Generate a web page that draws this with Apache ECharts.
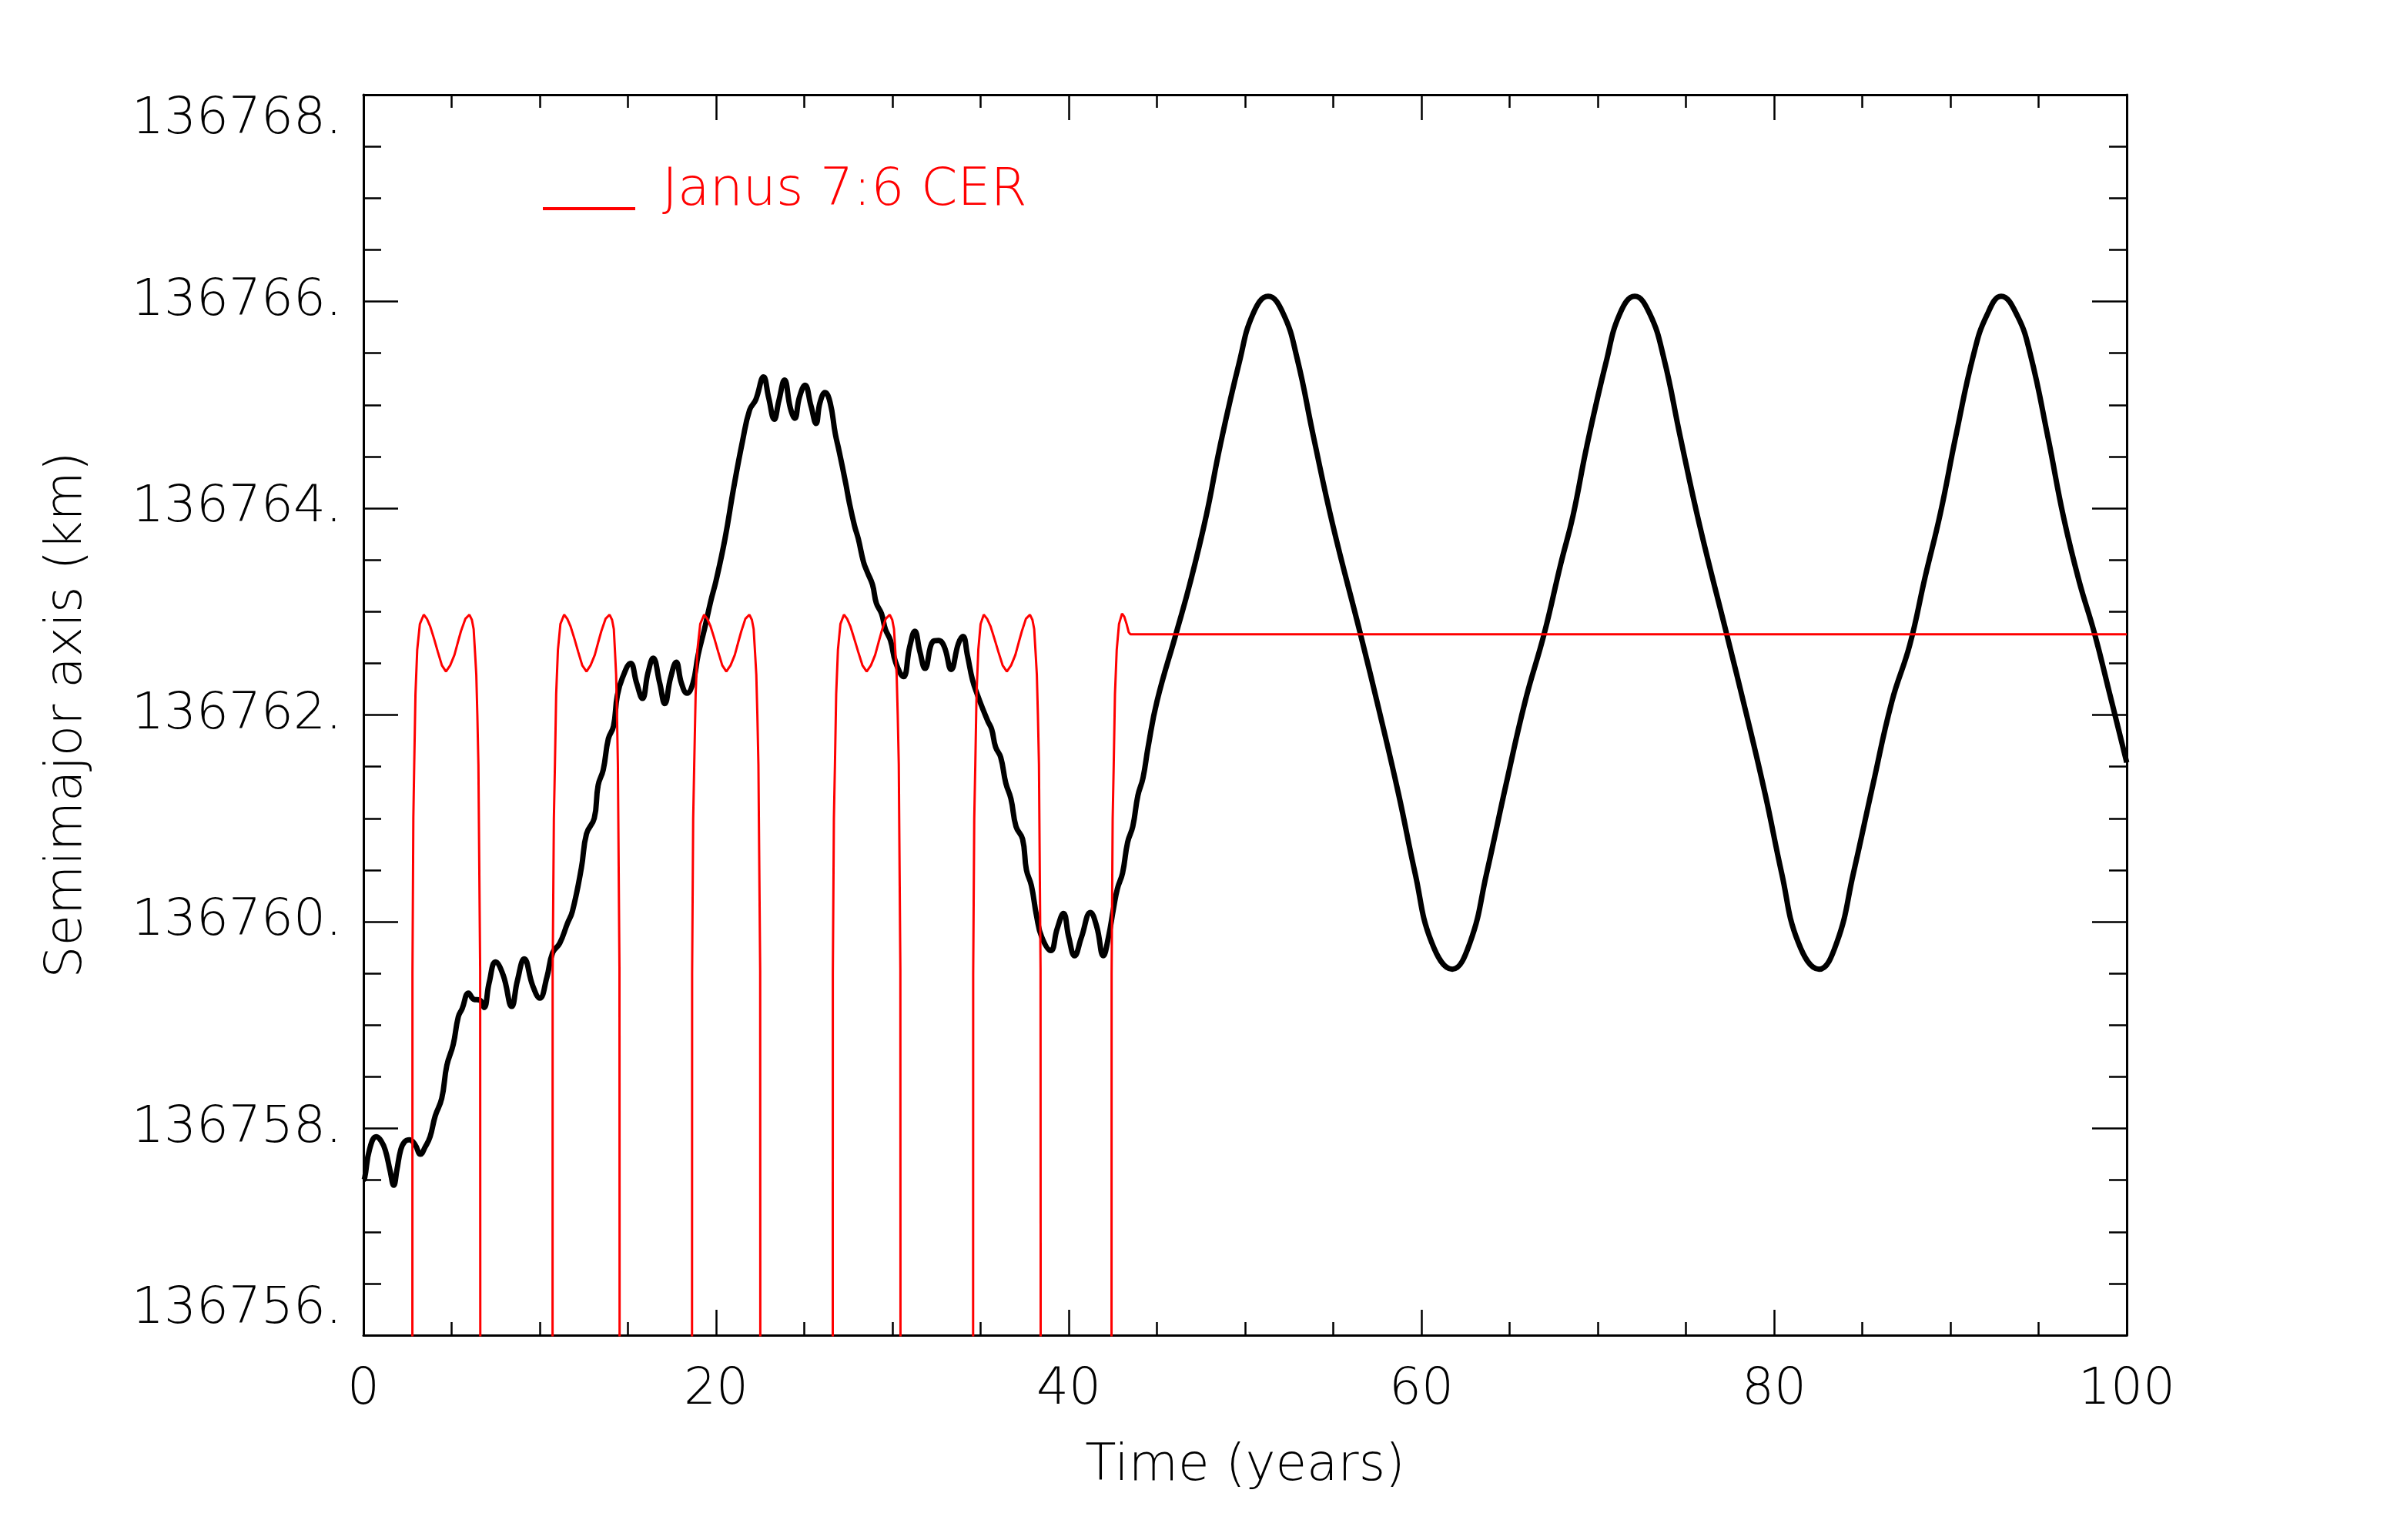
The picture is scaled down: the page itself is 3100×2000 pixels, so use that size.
<!DOCTYPE html>
<html>
<head>
<meta charset="utf-8">
<title>Semimajor axis vs time</title>
<script src="https://cdn.jsdelivr.net/npm/echarts@6/dist/echarts.min.js"></script>
<style>
    html, body { margin: 0; padding: 0; background: #ffffff; }
    #chart { width: 3100px; height: 2000px; }
</style>
</head>
<body>
<div id="chart"></div>
<script>
///////////////////////////////////////////////////////////////////
///////////////////////// data

// black curve: semimajor axis (km) against time (years)
const blackTime = [
    0.0, 0.07, 0.35, 0.73, 1.0, 1.24, 1.5, 1.72, 1.9, 2.11, 2.33, 2.62, 2.94, 3.23, 3.5, 3.78,
    4.07, 4.44, 4.73, 5.09, 5.38, 5.6, 5.96, 6.25, 6.62, 6.84, 7.13, 7.49, 7.93, 8.41, 8.73, 9.12,
    9.6, 10.0, 10.4, 10.73, 11.13, 11.56, 11.85, 12.36, 12.65, 13.09, 13.31, 13.6, 13.89, 14.18, 14.4, 14.69,
    15.15, 15.49, 15.82, 16.14, 16.43, 16.8, 17.09, 17.42, 17.74, 18.03, 18.35, 18.69, 18.98, 19.34, 19.71, 20.0,
    20.5, 21.0, 21.5, 21.9, 22.25, 22.69, 22.98, 23.3, 23.56, 23.88, 24.21, 24.46, 24.72, 25.04, 25.38, 25.67,
    25.89, 26.18, 26.47, 26.76, 26.98, 27.34, 27.56, 27.85, 28.07, 28.36, 28.58, 28.87, 29.09, 29.38, 29.6, 29.89,
    30.18, 30.62, 30.98, 31.27, 31.56, 31.85, 32.29, 32.61, 32.94, 33.33, 33.74, 34.0, 34.25, 34.54, 34.83, 35.12,
    35.41, 35.63, 35.85, 36.14, 36.43, 36.72, 37.01, 37.38, 37.6, 37.88, 38.18, 38.47, 38.98, 39.34, 39.7, 40.0,
    40.33, 40.72, 41.23, 41.59, 41.96, 42.25, 42.54, 42.76, 43.05, 43.34, 43.63, 43.92, 44.21, 44.5, 45.0, 46.09,
    46.87, 47.8, 48.58, 49.67, 50.45, 51.31, 52.17, 52.95, 53.88, 54.97, 56.53, 57.62, 58.71, 59.64, 60.58, 61.75,
    62.76, 63.7, 64.79, 65.88, 66.97, 67.9, 68.6, 69.38, 70.47, 71.25, 72.1, 72.95, 73.75, 74.68, 75.77, 77.3,
    78.4, 79.5, 80.43, 81.37, 82.55, 83.56, 84.5, 85.6, 86.68, 87.7, 88.56, 89.43, 90.31, 91.32, 92.05, 92.88,
    93.8, 94.53, 95.55, 96.42, 97.29, 98.17, 99.04, 100.0
]
const blackAxis = [
    136757.50, 136757.52, 136757.80, 136757.92, 136757.88, 136757.79, 136757.60, 136757.45, 136757.60, 136757.79, 136757.87, 136757.89, 136757.84, 136757.75, 136757.82, 136757.92,
    136758.12, 136758.29, 136758.61, 136758.81, 136759.08, 136759.16, 136759.31, 136759.25, 136759.24, 136759.17, 136759.41, 136759.61, 136759.48, 136759.18, 136759.43, 136759.64,
    136759.38, 136759.26, 136759.46, 136759.70, 136759.79, 136759.98, 136760.10, 136760.52, 136760.85, 136761.00, 136761.32, 136761.47, 136761.77, 136761.89, 136762.19, 136762.36,
    136762.50, 136762.31, 136762.16, 136762.41, 136762.55, 136762.31, 136762.11, 136762.36, 136762.51, 136762.31, 136762.21, 136762.31, 136762.58, 136762.83, 136763.11, 136763.30,
    136763.70, 136764.20, 136764.65, 136764.95, 136765.05, 136765.27, 136765.07, 136764.86, 136765.04, 136765.24, 136764.97, 136764.87, 136765.07, 136765.19, 136764.99, 136764.82,
    136765.02, 136765.12, 136765.02, 136764.72, 136764.55, 136764.25, 136764.05, 136763.83, 136763.70, 136763.48, 136763.38, 136763.26, 136763.08, 136762.98, 136762.83, 136762.72,
    136762.51, 136762.37, 136762.66, 136762.81, 136762.61, 136762.45, 136762.71, 136762.72, 136762.66, 136762.44, 136762.69, 136762.76, 136762.58, 136762.34, 136762.19, 136762.06,
    136761.94, 136761.86, 136761.69, 136761.59, 136761.34, 136761.19, 136760.92, 136760.80, 136760.50, 136760.35, 136760.05, 136759.85, 136759.72, 136759.93, 136760.08, 136759.85,
    136759.67, 136759.85, 136760.09, 136759.95, 136759.67, 136759.85, 136760.13, 136760.32, 136760.47, 136760.77, 136760.92, 136761.22, 136761.39, 136761.69, 136762.13, 136762.79,
    136763.27, 136763.93, 136764.60, 136765.41, 136765.88, 136766.05, 136765.88, 136765.45, 136764.69, 136763.84, 136762.79, 136762.03, 136761.23, 136760.47, 136759.80, 136759.54,
    136759.80, 136760.47, 136761.32, 136762.13, 136762.79, 136763.46, 136763.93, 136764.60, 136765.41, 136765.88, 136766.05, 136765.88, 136765.45, 136764.69, 136763.84, 136762.79,
    136762.03, 136761.23, 136760.47, 136759.80, 136759.54, 136759.80, 136760.47, 136761.32, 136762.13, 136762.68, 136763.33, 136763.95, 136764.70, 136765.49, 136765.86, 136766.05,
    136765.86, 136765.49, 136764.67, 136763.91, 136763.30, 136762.79, 136762.20, 136761.54
]

// red curve: Janus 7:6 CER, drops far below the frame between the humps
const redTime = [
    0.0, 2.76, 2.78, 2.83, 2.88, 2.95, 3.05, 3.2, 3.42, 3.6, 3.78, 4.0, 4.22, 4.45, 4.68, 4.92, 5.16, 5.35, 5.53, 5.78, 6.01, 6.15, 6.25, 6.33, 6.4, 6.46, 6.52, 6.62, 6.65,
    10.71, 10.73, 10.8, 10.86, 10.93, 11.03, 11.17, 11.38, 11.56, 11.74, 11.96, 12.18, 12.41, 12.65, 12.88, 13.12, 13.31, 13.49, 13.73, 13.96, 14.1, 14.2, 14.27, 14.33, 14.38, 14.43, 14.52, 14.55,
    18.62, 18.64, 18.7, 18.76, 18.84, 18.94, 19.1, 19.32, 19.5, 19.68, 19.9, 20.12, 20.35, 20.58, 20.82, 21.06, 21.25, 21.43, 21.66, 21.89, 22.03, 22.13, 22.21, 22.28, 22.34, 22.4, 22.5, 22.53,
    26.6, 26.62, 26.68, 26.74, 26.81, 26.91, 27.05, 27.25, 27.43, 27.61, 27.83, 28.06, 28.3, 28.54, 28.78, 29.02, 29.21, 29.39, 29.62, 29.85, 29.99, 30.09, 30.17, 30.24, 30.3, 30.36, 30.45, 30.48,
    34.56, 34.58, 34.64, 34.7, 34.77, 34.87, 35.0, 35.18, 35.37, 35.56, 35.78, 36.01, 36.25, 36.49, 36.73, 36.97, 37.16, 37.34, 37.57, 37.8, 37.94, 38.04, 38.12, 38.19, 38.25, 38.31, 38.4, 38.43,
    42.41, 42.43, 42.49, 42.55, 42.62, 42.72, 42.85, 43.02, 43.15, 43.28, 43.4, 43.5, 100.0
]
const redAxis = [
    136745, 136745, 136759.5, 136761.0, 136761.52, 136762.2, 136762.63, 136762.88, 136762.97, 136762.93, 136762.86, 136762.74, 136762.61, 136762.48, 136762.42, 136762.48, 136762.58, 136762.70, 136762.81, 136762.93, 136762.97, 136762.92, 136762.83, 136762.6, 136762.39, 136762.0, 136761.52, 136759.53, 136745,
    136745, 136759.5, 136761.0, 136761.52, 136762.2, 136762.63, 136762.88, 136762.97, 136762.93, 136762.86, 136762.74, 136762.61, 136762.48, 136762.42, 136762.48, 136762.58, 136762.70, 136762.81, 136762.93, 136762.97, 136762.92, 136762.83, 136762.6, 136762.39, 136762.0, 136761.52, 136759.53, 136745,
    136745, 136759.5, 136761.0, 136761.52, 136762.2, 136762.63, 136762.88, 136762.97, 136762.93, 136762.86, 136762.74, 136762.61, 136762.48, 136762.42, 136762.48, 136762.58, 136762.70, 136762.81, 136762.93, 136762.97, 136762.92, 136762.83, 136762.6, 136762.39, 136762.0, 136761.52, 136759.53, 136745,
    136745, 136759.5, 136761.0, 136761.52, 136762.2, 136762.63, 136762.88, 136762.97, 136762.93, 136762.86, 136762.74, 136762.61, 136762.48, 136762.42, 136762.48, 136762.58, 136762.70, 136762.81, 136762.93, 136762.97, 136762.92, 136762.83, 136762.6, 136762.39, 136762.0, 136761.52, 136759.53, 136745,
    136745, 136759.5, 136761.0, 136761.52, 136762.2, 136762.63, 136762.88, 136762.97, 136762.93, 136762.86, 136762.74, 136762.61, 136762.48, 136762.42, 136762.48, 136762.58, 136762.70, 136762.81, 136762.93, 136762.97, 136762.92, 136762.83, 136762.6, 136762.39, 136762.0, 136761.52, 136759.53, 136745,
    136745, 136759.5, 136761.0, 136761.52, 136762.2, 136762.63, 136762.88, 136762.98, 136762.95, 136762.88, 136762.80, 136762.78, 136762.78
]

// axes
const timeRange = [0, 100]
const timeStep = 20
const axisRange = [136756, 136768]
const axisStep = 2

const legendName = 'Janus 7:6 CER'
const xTitle = 'Time (years)'
const yTitle = 'Semimajor axis (km)'

///////////////////////////////////////////////////////////////////
///////////////////////// chart

const FONT = 'DejaVu Sans'
const zip = (xs, ys) => xs.map((x, i) => [x, ys[i]])

// builds one frame side; labelled sides get text, the others only ticks
function makeAxis(position, isX, labelled) {
    return {
        type: 'value',
        position: position,
        min: isX ? timeRange[0] : axisRange[0],
        max: isX ? timeRange[1] : axisRange[1],
        interval: isX ? timeStep : axisStep,
        splitLine: { show: false },
        axisLine: { show: true, onZero: false, lineStyle: { color: '#000', width: 3 } },
        axisTick: {
            show: true,
            inside: true,
            length: isX ? 33 : 45,
            lineStyle: { color: '#000', width: 2.5 }
        },
        minorTick: {
            show: true,
            splitNumber: 4,
            length: isX ? 17 : 23,
            lineStyle: { color: '#000', width: 2.5 }
        },
        axisLabel: {
            show: labelled,
            color: '#000',
            fontFamily: FONT,
            fontWeight: 200,
            fontSize: 66,
            margin: isX ? 39 : 28,
            formatter: isX ? (v => String(v)) : (v => v + '.'),
            verticalAlignMinLabel: isX ? null : 'bottom',
            verticalAlignMaxLabel: isX ? null : 'top'
        },
        name: labelled ? (isX ? xTitle : yTitle) : '',
        nameLocation: 'middle',
        nameGap: isX ? 138 : 351,
        nameTextStyle: {
            color: '#000',
            fontFamily: FONT,
            fontWeight: 200,
            fontSize: 66
        }
    }
}

const chart = echarts.init(document.getElementById('chart'), null, { renderer: 'canvas' })

chart.setOption({
    animation: false,
    backgroundColor: '#ffffff',
    grid: { left: 472, right: 338, top: 123, bottom: 266 },
    xAxis: [makeAxis('bottom', true, true), makeAxis('top', true, false)],
    yAxis: [makeAxis('left', false, true), makeAxis('right', false, false)],
    legend: {
        data: [legendName],
        left: 700,
        top: 209,
        orient: 'vertical',
        selectedMode: false,
        itemWidth: 150,
        itemHeight: 50,
        // line sits at the text baseline, the empty right part is the gap before the text
        icon: 'path://M150,0 M0,46 L120,46 L120,50 L0,50 Z',
        itemStyle: { color: '#ff0000', borderWidth: 0 },
        textStyle: {
            color: '#ff0000',
            fontFamily: FONT,
            fontWeight: 200,
            fontSize: 68
        }
    },
    series: [
        {
            name: 'Semimajor axis',
            type: 'line',
            data: zip(blackTime, blackAxis),
            showSymbol: false,
            smooth: 0.45,
            clip: true,
            lineStyle: { color: '#000000', width: 7 },
            itemStyle: { color: '#000000' },
            z: 2
        },
        {
            name: legendName,
            type: 'line',
            data: zip(redTime, redAxis),
            showSymbol: false,
            clip: true,
            lineStyle: { color: '#ff0000', width: 3 },
            itemStyle: { color: '#ff0000' },
            z: 3
        }
    ]
})
</script>
</body>
</html>
